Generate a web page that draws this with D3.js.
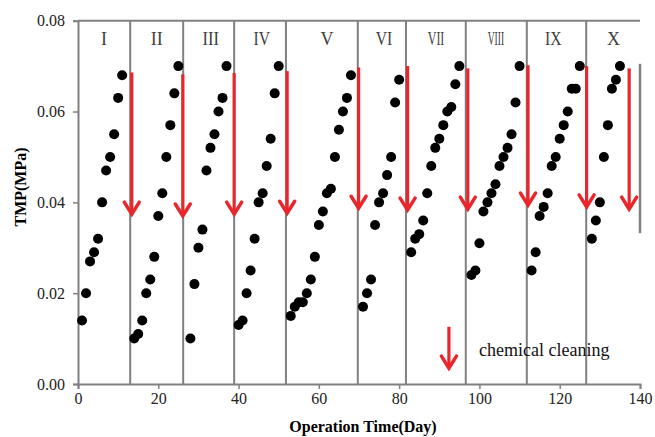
<!DOCTYPE html>
<html>
<head>
<meta charset="utf-8">
<script src="https://cdn.jsdelivr.net/npm/d3@7"></script>
<style>
  body { margin: 0; background: #fff; }
  text { font-family: "Liberation Serif", "Times New Roman", serif; }
</style>
</head>
<body>
<div id="chart"></div>
<script>
// measured TMP values, one point per operation day
var days = [1, 2, 3, 4, 5, 6, 7, 8, 9, 10, 11,
  14, 15, 16, 17, 18, 19, 20, 21, 22, 23, 24, 25,
  28, 29, 30, 31, 32, 33, 34, 35, 36, 37,
  40, 41, 42, 43, 44, 45, 46, 47, 48, 49, 50,
  53, 54, 55, 56, 57, 58, 59, 60, 61, 62, 63, 64, 65, 66, 67, 68,
  71, 72, 73, 74, 75, 76, 77, 78, 79, 80,
  83, 84, 85, 86, 87, 88, 89, 90, 91, 92, 93, 94, 95,
  98, 99, 100, 101, 102, 103, 104, 105, 106, 107, 108, 109, 110,
  113, 114, 115, 116, 117, 118, 119, 120, 121, 122, 123, 124, 125,
  128, 129, 130, 131, 132, 133, 134, 135];
var tmp = [0.014, 0.020, 0.027, 0.029, 0.032, 0.040, 0.047, 0.050, 0.055, 0.063, 0.068,
  0.010, 0.011, 0.014, 0.020, 0.023, 0.028, 0.037, 0.042, 0.050, 0.057, 0.064, 0.070,
  0.010, 0.022, 0.030, 0.034, 0.047, 0.052, 0.055, 0.060, 0.063, 0.070,
  0.013, 0.014, 0.020, 0.025, 0.032, 0.040, 0.042, 0.048, 0.054, 0.064, 0.070,
  0.015, 0.017, 0.018, 0.018, 0.020, 0.023, 0.028, 0.035, 0.038, 0.042, 0.043, 0.050, 0.056, 0.060, 0.063, 0.068,
  0.017, 0.020, 0.023, 0.035, 0.040, 0.042, 0.046, 0.050, 0.062, 0.067,
  0.029, 0.032, 0.033, 0.036, 0.042, 0.048, 0.052, 0.054, 0.057, 0.060, 0.061, 0.066, 0.070,
  0.024, 0.025, 0.031, 0.038, 0.040, 0.042, 0.044, 0.048, 0.050, 0.052, 0.055, 0.062, 0.070,
  0.025, 0.029, 0.037, 0.039, 0.042, 0.048, 0.050, 0.054, 0.057, 0.060, 0.065, 0.065, 0.070,
  0.032, 0.036, 0.040, 0.050, 0.057, 0.065, 0.067, 0.070];

// cycle separators and cycle names
var cycleEnds = [13, 26.2, 38.9, 51.8, 69.7, 81.7, 96.6, 111.8, 126.6];
var cycleNames = ['I', 'II', 'III', 'IV', 'V', 'VI', 'VII', 'VIII', 'IX', 'X'];
var cycleMid = [6.5, 19.6, 33.1, 45.8, 62, 76.2, 89.2, 104.1, 118.4, 133.4];

// chemical cleaning arrows
var cleanDay = [13.4, 26.1, 38.9, 52.1, 69.9, 82.1, 97.1, 112.1, 126.7, 137.3];
var cleanFrom = [0.0686, 0.0682, 0.0685, 0.0689, 0.0697, 0.0700, 0.0695, 0.0702, 0.0700, 0.0695];
var cleanTo = [0.0374, 0.0370, 0.0374, 0.0376, 0.0387, 0.0383, 0.0385, 0.0394, 0.0390, 0.0385];

var xTicks = [0, 20, 40, 60, 80, 100, 120, 140];
var yTicks = [0, 0.02, 0.04, 0.06, 0.08];

var W = 655, H = 437;
var gray = '#808080', red = '#e8262b';

var svg = d3.select('#chart').append('svg')
    .attr('width', W).attr('height', H);

var x = d3.scaleLinear().domain([0, 140]).range([78, 640]);
var y = d3.scaleLinear().domain([0, 0.08]).range([384, 20.7]);

//axes
var xAxis = svg.append('g').attr('transform', 'translate(0,' + y(0) + ')')
    .call(d3.axisBottom(x).tickValues(xTicks).tickSize(5).tickPadding(4).tickFormat(d3.format('d')));
var yAxis = svg.append('g').attr('transform', 'translate(' + x(0) + ',0)')
    .call(d3.axisLeft(y).tickValues(yTicks).tickSize(5).tickPadding(8).tickFormat(d3.format('.2f')));
[xAxis, yAxis].forEach(function(a){
    a.select('.domain').attr('stroke', gray).attr('stroke-width', 2);
    a.selectAll('.tick line').attr('stroke', gray).attr('stroke-width', 1.5);
    a.selectAll('.tick text').attr('font-size', 16).attr('fill', '#222')
        .attr('font-family', '"Liberation Serif", serif');
});

//top border and partial right border
svg.append('line').attr('x1', x(0)).attr('x2', x(140)).attr('y1', y(0.08)).attr('y2', y(0.08))
    .attr('stroke', gray).attr('stroke-width', 2);
svg.append('line').attr('x1', x(140)).attr('x2', x(140)).attr('y1', y(0.0705)).attr('y2', y(0.0332))
    .attr('stroke', gray).attr('stroke-width', 2.5);

//cycle separators
svg.selectAll('.sep').data(cycleEnds).enter().append('line')
    .attr('class', 'sep')
    .attr('x1', function(d){ return x(d); }).attr('x2', function(d){ return x(d); })
    .attr('y1', y(0.08)).attr('y2', y(0))
    .attr('stroke', gray).attr('stroke-width', 2);

//cycle names, squeezed like the condensed roman glyphs
svg.selectAll('.cyc').data(cycleNames).enter().append('text')
    .attr('class', 'cyc')
    .attr('x', function(d, i){ return x(cycleMid[i]); })
    .attr('y', 45)
    .attr('text-anchor', 'middle')
    .attr('font-size', 18)
    .attr('fill', '#404040')
    .text(function(d){ return d; })
    .each(function(){
        var len = this.getComputedTextLength();
        if (len > 16.5) d3.select(this).attr('textLength', 16.5).attr('lengthAdjust', 'spacingAndGlyphs');
    });

//red arrows
function drawArrow(px, y1, y2){
    var g = svg.append('g').attr('class', 'arrow');
    g.append('line').attr('x1', px).attr('x2', px).attr('y1', y1).attr('y2', y2 - 2)
        .attr('stroke', red).attr('stroke-width', 3.2);
    g.append('path').attr('d', 'M' + (px - 7.5) + ',' + (y2 - 12) + 'L' + px + ',' + y2 + 'L' + (px + 7.5) + ',' + (y2 - 12))
        .attr('fill', 'none').attr('stroke', red).attr('stroke-width', 3.5)
        .attr('stroke-linejoin', 'miter').attr('stroke-linecap', 'round');
}
cleanDay.forEach(function(d, i){
    drawArrow(x(d), y(cleanFrom[i]), y(cleanTo[i]));
});

//points
svg.selectAll('.pt').data(days).enter().append('circle')
    .attr('class', 'pt')
    .attr('cx', function(d){ return x(d); })
    .attr('cy', function(d, i){ return y(tmp[i]); })
    .attr('r', 5)
    .attr('fill', '#000');

//legend
drawArrow(x(92.4), y(0.0126), y(0.0035));
svg.append('text').attr('x', 479).attr('y', 356)
    .attr('font-size', 18).attr('fill', '#111')
    .text('chemical cleaning');

//axis titles
svg.append('text').attr('x', 363).attr('y', 432)
    .attr('text-anchor', 'middle').attr('font-size', 16).attr('font-weight', 'bold')
    .text('Operation Time(Day)');
svg.append('text').attr('transform', 'translate(26,187) rotate(-90)')
    .attr('text-anchor', 'middle').attr('font-size', 16).attr('font-weight', 'bold')
    .text('TMP(MPa)');
</script>
</body>
</html>
